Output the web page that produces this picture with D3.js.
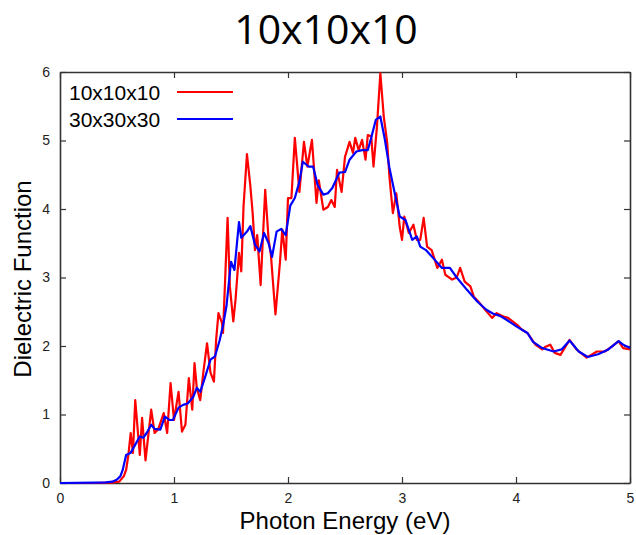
<!DOCTYPE html>
<html>
<head>
<meta charset="utf-8">
<script src="https://cdn.jsdelivr.net/npm/d3@7"></script>
<style>
  body { margin: 0; background: #fff; }
  svg text { font-family: "Liberation Sans", Arial, sans-serif; }
</style>
</head>
<body>
<div id="chart"></div>
<script>
// series labels
var seriesNames = ["10x10x10", "30x30x30"];

// 10x10x10 k-mesh (red)
var energyRed = [0, 0.3, 0.45, 0.52, 0.56, 0.58, 0.60, 0.62, 0.64, 0.66, 0.70, 0.72, 0.75, 0.80, 0.83, 0.86, 0.91, 0.94, 0.97, 1.00,
  1.04, 1.07, 1.10, 1.13, 1.16, 1.18, 1.20, 1.23, 1.26, 1.29, 1.32, 1.35, 1.37, 1.39, 1.42, 1.43, 1.47, 1.49, 1.52, 1.54,
  1.57, 1.59, 1.61, 1.64, 1.67, 1.69, 1.71, 1.73, 1.76, 1.80, 1.83, 1.85, 1.89, 1.93, 1.95, 1.98, 2.00, 2.03, 2.06, 2.10,
  2.14, 2.17, 2.21, 2.25, 2.27, 2.31, 2.35, 2.38, 2.41, 2.43, 2.47, 2.50, 2.54, 2.57, 2.59, 2.62, 2.65, 2.68, 2.70, 2.73,
  2.75, 2.78, 2.81, 2.84, 2.87, 2.89, 2.92, 2.95, 2.98, 3.00, 3.02, 3.06, 3.10, 3.13, 3.16, 3.19, 3.22, 3.26, 3.31, 3.35,
  3.38, 3.44, 3.48, 3.51, 3.55, 3.60, 3.63, 3.68, 3.73, 3.79, 3.83, 3.89, 3.93, 4.01, 4.05, 4.10, 4.17, 4.23, 4.26, 4.30,
  4.34, 4.39, 4.47, 4.53, 4.62, 4.71, 4.78, 4.84, 4.90, 4.94, 5.00];
var epsRed = [0, 0, 0.005, 0.02, 0.1, 0.19, 0.41, 0.73, 0.44, 1.21, 0.41, 0.95, 0.33, 1.07, 0.73, 0.78, 1.02, 0.73, 1.46, 0.92,
  1.33, 0.75, 0.85, 1.53, 1.07, 1.75, 1.39, 1.21, 1.65, 2.04, 1.61, 1.48, 2.10, 2.48, 2.34, 2.19, 3.87, 2.87, 2.36, 2.68,
  3.36, 3.09, 4.04, 4.80, 4.33, 3.94, 3.40, 3.62, 2.89, 4.28, 3.55, 3.33, 2.46, 3.23, 3.70, 3.26, 4.16, 4.16, 5.04, 4.25,
  4.98, 4.62, 5.01, 4.09, 4.42, 3.99, 4.03, 4.13, 4.03, 4.57, 4.25, 4.76, 4.98, 4.82, 5.04, 4.86, 5.01, 4.72, 5.08, 5.06,
  4.62, 5.20, 5.98, 5.35, 4.97, 4.47, 3.94, 4.23, 3.74, 3.55, 3.89, 3.65, 3.77, 3.55, 3.55, 3.87, 3.45, 3.40, 3.14, 3.26,
  3.04, 2.97, 3.00, 3.14, 2.94, 2.87, 2.72, 2.63, 2.53, 2.41, 2.48, 2.43, 2.41, 2.31, 2.24, 2.19, 2.02, 1.95, 1.99, 2.02,
  1.90, 1.87, 2.09, 1.95, 1.83, 1.92, 1.92, 1.99, 2.07, 1.97, 1.95];

// 30x30x30 k-mesh (blue)
var energyBlue = [0, 0.3, 0.4, 0.46, 0.50, 0.53, 0.55, 0.58, 0.62, 0.66, 0.70, 0.73, 0.76, 0.80, 0.83, 0.88, 0.92, 0.96, 0.99, 1.04,
  1.08, 1.12, 1.17, 1.20, 1.23, 1.27, 1.32, 1.36, 1.40, 1.43, 1.46, 1.50, 1.53, 1.57, 1.59, 1.64, 1.67, 1.71, 1.75, 1.79,
  1.83, 1.86, 1.90, 1.94, 1.98, 2.02, 2.06, 2.10, 2.13, 2.18, 2.22, 2.26, 2.31, 2.35, 2.39, 2.45, 2.50, 2.54, 2.60, 2.65,
  2.70, 2.73, 2.77, 2.81, 2.85, 2.89, 2.94, 2.98, 3.03, 3.09, 3.13, 3.16, 3.21, 3.27, 3.35, 3.42, 3.48, 3.57, 3.66, 3.74,
  3.80, 3.86, 3.92, 4.01, 4.10, 4.15, 4.23, 4.33, 4.40, 4.47, 4.55, 4.63, 4.72, 4.81, 4.90, 4.94, 5.00];
var epsBlue = [0, 0.005, 0.01, 0.02, 0.05, 0.1, 0.19, 0.41, 0.44, 0.56, 0.68, 0.66, 0.73, 0.85, 0.79, 0.78, 0.97, 0.92, 0.92, 1.10,
  1.14, 1.16, 1.26, 1.39, 1.33, 1.53, 1.80, 1.85, 2.08, 2.30, 2.58, 3.23, 3.11, 3.81, 3.58, 3.67, 3.75, 3.48, 3.38, 3.65,
  3.50, 3.30, 3.67, 3.71, 3.62, 4.05, 4.16, 4.40, 4.69, 4.62, 4.62, 4.35, 4.21, 4.23, 4.31, 4.53, 4.54, 4.72, 4.84, 4.86,
  4.86, 5.04, 5.30, 5.35, 5.01, 4.60, 4.20, 3.89, 3.84, 3.55, 3.60, 3.45, 3.40, 3.29, 3.14, 3.14, 3.00, 2.82, 2.65, 2.53,
  2.47, 2.44, 2.38, 2.28, 2.19, 2.06, 1.97, 1.92, 1.95, 2.08, 1.92, 1.84, 1.88, 1.95, 2.07, 2.02, 1.97];

var xTicks = [0, 1, 2, 3, 4, 5];
var yTicks = [0, 1, 2, 3, 4, 5, 6];

var margin = {top: 72, right: 6, bottom: 52, left: 60},
    width = 636 - margin.left - margin.right,
    height = 535 - margin.top - margin.bottom;

var svgRoot = d3.select("#chart")
  .append("svg")
  .attr("width", 636)
  .attr("height", 535);

// title
svgRoot.append("text")
  .attr("x", 326)
  .attr("y", 44)
  .attr("text-anchor", "middle")
  .style("font-family", "'Open Sans', 'Noto Sans', sans-serif")
  .style("font-size", "41px")
  .text("10x10x10");

var svg = svgRoot.append("g")
  .attr("transform", "translate(" + margin.left + "," + margin.top + ")");

var x = d3.scaleLinear().domain([0, 5]).range([0, width]);
var y = d3.scaleLinear().domain([0, 6]).range([height, 0]);

var axisColor = "#333";
var fmt = d3.format("d");

// mirrored inward ticks, gnuplot style
var axisBottomG = svg.append("g")
  .attr("transform", "translate(0," + height + ")")
  .call(d3.axisBottom(x).tickValues(xTicks).tickFormat(fmt).tickSizeInner(-6).tickSizeOuter(0).tickPadding(10));
var axisLeftG = svg.append("g")
  .call(d3.axisLeft(y).tickValues(yTicks).tickFormat(fmt).tickSizeInner(-6).tickSizeOuter(0).tickPadding(10));
var axisTopG = svg.append("g")
  .call(d3.axisTop(x).tickValues(xTicks).tickSizeInner(-6).tickSizeOuter(0).tickFormat(""));
var axisRightG = svg.append("g")
  .attr("transform", "translate(" + width + ",0)")
  .call(d3.axisRight(y).tickValues(yTicks).tickSizeInner(-6).tickSizeOuter(0).tickFormat(""));

[axisBottomG, axisLeftG, axisTopG, axisRightG].forEach(g => {
  g.select(".domain").attr("stroke", axisColor).attr("stroke-width", 1.6);
  g.selectAll(".tick line").attr("stroke", axisColor).attr("stroke-width", 1.2);
  g.selectAll(".tick text")
    .attr("fill", "#222")
    .style("font-family", "'Liberation Sans', Arial, sans-serif")
    .style("font-size", "14px");
});

// axis labels
svgRoot.append("text")
  .attr("x", 345)
  .attr("y", 529)
  .attr("text-anchor", "middle")
  .style("font-size", "24px")
  .text("Photon Energy (eV)");

svgRoot.append("text")
  .attr("transform", "translate(31," + 279 + ") rotate(-90)")
  .attr("text-anchor", "middle")
  .style("font-size", "24px")
  .text("Dielectric Function");

var line = d3.line()
  .x(d => x(d[0]))
  .y(d => y(d[1]));

var series = [
  {name: seriesNames[0], color: "#ff0000", values: d3.zip(energyRed, epsRed)},
  {name: seriesNames[1], color: "#0000ff", values: d3.zip(energyBlue, epsBlue)}
];

svg.selectAll("path.series")
  .data(series)
  .enter()
  .append("path")
  .attr("class", "series")
  .attr("fill", "none")
  .attr("stroke", d => d.color)
  .attr("stroke-width", 2.2)
  .attr("stroke-linejoin", "round")
  .attr("d", d => line(d.values));

// legend
var legend = svg.selectAll("g.legend")
  .data(series)
  .enter()
  .append("g")
  .attr("class", "legend")
  .attr("transform", (d, i) => "translate(0," + (20 + i * 27) + ")");

legend.append("text")
  .attr("x", 9)
  .attr("y", 8)
  .style("font-size", "21px")
  .text(d => d.name);

legend.append("line")
  .attr("x1", 117)
  .attr("x2", 173)
  .attr("stroke", d => d.color)
  .attr("stroke-width", 2);
</script>
</body>
</html>
